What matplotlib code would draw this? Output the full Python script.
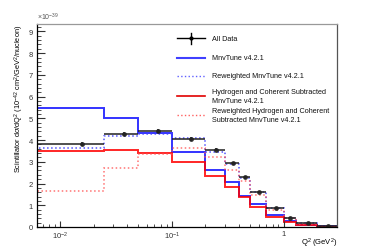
import matplotlib
matplotlib.use('Agg')
import matplotlib.pyplot as plt
from matplotlib.ticker import MultipleLocator, LogLocator, NullFormatter, FixedLocator, FixedFormatter
from matplotlib.lines import Line2D

plt.rcParams['font.family'] = ['Liberation Sans', 'DejaVu Sans']
plt.rcParams['mathtext.fontset'] = 'custom'
plt.rcParams['mathtext.rm'] = 'Liberation Sans'
plt.rcParams['mathtext.it'] = 'Liberation Sans:italic'

# Q2 bin edges (GeV^2)
bin_edges = [0.00625, 0.025, 0.05, 0.1, 0.2, 0.3, 0.4, 0.5, 0.7, 1.0, 1.3, 2.0, 3.0]

# cross sections in units of 1e-39
data_vals = [3.82, 4.29, 4.40, 4.05, 3.56, 2.93, 2.28, 1.60, 0.87, 0.43, 0.17, 0.06]
data_errs = [0.11, 0.10, 0.09, 0.08, 0.07, 0.07, 0.06, 0.05, 0.04, 0.03, 0.02, 0.01]
mnv_tune = [5.46, 5.01, 4.32, 3.46, 2.64, 2.05, 1.44, 1.06, 0.55, 0.26, 0.11, 0.03]
mnv_tune_rw = [3.63, 4.17, 4.28, 4.09, 3.46, 2.90, 2.24, 1.60, 0.86, 0.42, 0.17, 0.05]
hc_sub = [3.48, 3.54, 3.39, 2.98, 2.36, 1.82, 1.37, 0.91, 0.47, 0.21, 0.09, 0.02]
hc_sub_rw = [1.67, 2.70, 3.36, 3.63, 3.20, 2.64, 2.13, 1.47, 0.80, 0.40, 0.15, 0.04]

legend_labels = ['All Data', 'MnvTune v4.2.1', 'Reweighted MnvTune v4.2.1',
                 'Hydrogen and Coherent Subtracted\nMnvTune v4.2.1',
                 'Reweighted Hydrogen and Coherent\nSubtracted MnvTune v4.2.1']

fig = plt.figure(figsize=(3.74, 2.53), dpi=100)
ax = fig.add_axes([0.099, 0.099, 0.802, 0.802])

ax.stairs(mnv_tune, bin_edges, color='#1010ff', lw=1.4, alpha=0.85)
ax.stairs(mnv_tune_rw, bin_edges, color='#4040ff', lw=1.1, ls=':', alpha=0.9)
ax.stairs(hc_sub, bin_edges, color='#ff0000', lw=1.4, alpha=0.85)
ax.stairs(hc_sub_rw, bin_edges, color='#ff5050', lw=1.1, ls=':', alpha=0.8)

centers = [(bin_edges[i] + bin_edges[i + 1]) / 2 for i in range(len(data_vals))]
xlo = [c - bin_edges[i] for i, c in enumerate(centers)]
xhi = [bin_edges[i + 1] - c for i, c in enumerate(centers)]
ax.errorbar(centers, data_vals, xerr=[xlo, xhi], yerr=data_errs, fmt='o', color='#222222',
            ms=2.5, elinewidth=1.3, capsize=0, alpha=0.85)

ax.set_xscale('log')
ax.set_xlim(bin_edges[0], bin_edges[-1])
ax.set_ylim(0, 9.34)

ax.xaxis.set_major_locator(FixedLocator([0.01, 0.1, 1]))
ax.xaxis.set_major_formatter(FixedFormatter(['$10^{-2}$', '$10^{-1}$', '1']))
ax.xaxis.set_minor_locator(LogLocator(base=10, subs=range(2, 10)))
ax.xaxis.set_minor_formatter(NullFormatter())
ax.yaxis.set_major_locator(MultipleLocator(1))
ax.yaxis.set_minor_locator(MultipleLocator(0.2))

ax.tick_params(axis='both', which='both', direction='in', labelsize=5.5, colors='#333333',
               top=False, right=False)
ax.tick_params(axis='y', which='major', length=6, pad=3)
ax.tick_params(axis='y', which='minor', length=3)
ax.tick_params(axis='x', which='major', length=4.5, pad=2)
ax.tick_params(axis='x', which='minor', length=2.5)

ax.spines['top'].set_color('#999999')
ax.spines['right'].set_color('#555555')
for s in ax.spines.values():
    s.set_linewidth(0.9)

ax.set_ylabel('Scintillator d$\\sigma$/dQ$^2$ (10$^{-42}$ cm$^2$/GeV$^2$/nucleon)',
              fontsize=5.3, loc='top', labelpad=2)
ax.set_xlabel('Q$^2$ (GeV$^2$)', fontsize=5.5, ha='right', va='center')
ax.xaxis.set_label_coords(1.0, -0.074)
ax.text(0.0, 1.01, '$\\times10^{-39}$', transform=ax.transAxes, fontsize=5, color='#555555',
        ha='left', va='bottom')

# legend drawn by hand, ROOT style
handles = [dict(color='#000000', ls='-', lw=1.0),
           dict(color='#4040ff', ls='-', lw=1.5),
           dict(color='#6060ff', ls=':', lw=1.0),
           dict(color='#e00000', ls='-', lw=1.2),
           dict(color='#ff6060', ls=':', lw=1.0)]
entry_y = [0.929, 0.834, 0.745, 0.646, 0.552]
for lab, h, yy in zip(legend_labels, handles, entry_y):
    ax.add_line(Line2D([0.468, 0.561], [yy, yy], transform=ax.transAxes, **h))
    ax.text(0.582, yy, lab, transform=ax.transAxes, fontsize=5.2, va='center', ha='left',
            linespacing=1.45, color='#111111')
ax.add_line(Line2D([0.5145, 0.5145], [entry_y[0] - 0.025, entry_y[0] + 0.025],
                   transform=ax.transAxes, color='#000000', lw=1.0))
ax.plot([0.5145], [entry_y[0]], 'o', color='#000000', ms=2, transform=ax.transAxes)

plt.savefig('out.png', dpi=100)
